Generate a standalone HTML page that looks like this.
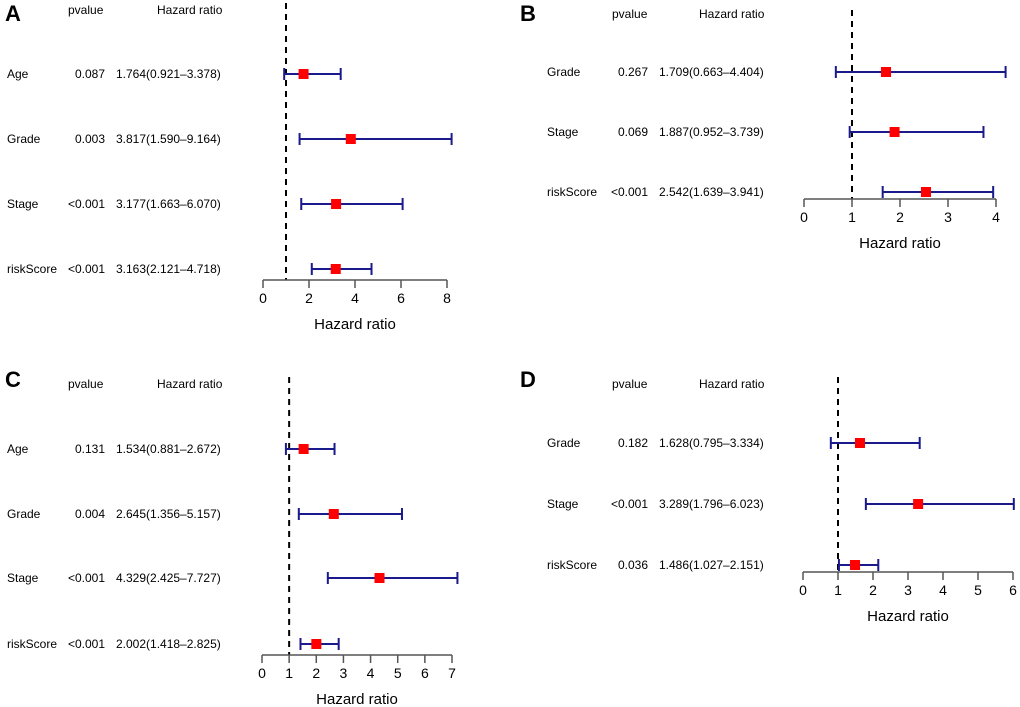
<!DOCTYPE html>
<html><head><meta charset="utf-8"><style>
body{margin:0;background:#fff}
svg{display:block;font-family:"Liberation Sans",Arial,sans-serif}
</style></head><body>
<svg id="c" width="1020" height="707"></svg>
<script>
const panelLetters=["A","B","C","D"];
const varsA=["Age","Grade","Stage","riskScore"];
const pA=["0.087","0.003","<0.001","<0.001"];
const hrA=[1.764,3.817,3.177,3.163];
const loA=[0.921,1.590,1.663,2.121];
const hiA=[3.378,9.164,6.070,4.718];
const ticksA=[0,2,4,6,8];
const varsB=["Grade","Stage","riskScore"];
const pB=["0.267","0.069","<0.001"];
const hrB=[1.709,1.887,2.542];
const loB=[0.663,0.952,1.639];
const hiB=[4.404,3.739,3.941];
const ticksB=[0,1,2,3,4];
const varsC=["Age","Grade","Stage","riskScore"];
const pC=["0.131","0.004","<0.001","<0.001"];
const hrC=[1.534,2.645,4.329,2.002];
const loC=[0.881,1.356,2.425,1.418];
const hiC=[2.672,5.157,7.727,2.825];
const ticksC=[0,1,2,3,4,5,6,7];
const varsD=["Grade","Stage","riskScore"];
const pD=["0.182","<0.001","0.036"];
const hrD=[1.628,3.289,1.486];
const loD=[0.795,1.796,1.027];
const hiD=[3.334,6.023,2.151];
const ticksD=[0,1,2,3,4,5,6];

const layouts=[
 {lx:5,ly:14,hy:14,px:68,hx:157,vx:7,pr:105,tx:116,rows:[74,139,204,269],x0:263,x1:447,tmax:8,ay:280,top:3},
 {lx:520,ly:14,hy:18,px:612,hx:699,vx:547,pr:648,tx:659,rows:[72,132,192],x0:804,x1:996,tmax:4,ay:199,top:10},
 {lx:5,ly:380,hy:388,px:68,hx:157,vx:7,pr:105,tx:116,rows:[449,514,578,644],x0:262,x1:452,tmax:7,ay:655,top:377},
 {lx:520,ly:380,hy:388,px:612,hx:699,vx:547,pr:648,tx:659,rows:[443,504,565],x0:803,x1:1013,tmax:6,ay:572,top:377}
];
const data=[[varsA,pA,hrA,loA,hiA,ticksA],[varsB,pB,hrB,loB,hiB,ticksB],[varsC,pC,hrC,loC,hiC,ticksC],[varsD,pD,hrD,loD,hiD,ticksD]];
const svg=document.getElementById('c');
const NS="http://www.w3.org/2000/svg";
function mk(t,a,txt){const e=document.createElementNS(NS,t);for(const k in a)e.setAttribute(k,a[k]);if(txt!==undefined)e.textContent=txt;svg.appendChild(e);return e;}
data.forEach((d,pi)=>{
 const L=layouts[pi];const [vars,pv,hr,lo,hi,ticks]=d;
 const xs=v=>L.x0+(L.x1-L.x0)*v/L.tmax;
 let e=mk('text',{x:L.lx,y:L.ly+7,'font-size':22,'font-weight':'bold'},panelLetters[pi]);
 
 e=mk('text',{x:L.px,y:L.hy,'font-size':12},'pvalue');
 
 e=mk('text',{x:L.hx,y:L.hy,'font-size':12},'Hazard ratio');
 
 e=mk('line',{x1:xs(1),x2:xs(1),y1:L.top,y2:L.ay,stroke:'#000','stroke-width':2,'stroke-dasharray':'6,5'});
 
 vars.forEach((v,i)=>{
  const y=L.rows[i];
  e=mk('text',{x:L.vx,y:y+4,'font-size':12},v);
  
  e=mk('text',{x:L.pr,y:y+4,'font-size':12,'text-anchor':'end'},pv[i]);
  
  e=mk('text',{x:L.tx,y:y+4,'font-size':12},hr[i].toFixed(3)+'('+lo[i].toFixed(3)+'\u2013'+hi[i].toFixed(3)+')');
  
  const a=xs(lo[i]),b=xs(Math.min(hi[i],L.tmax+0.2));
  e=mk('path',{d:`M${a},${y}H${b}M${a},${y-6}V${y+6}M${b},${y-6}V${y+6}`,stroke:'#1a1a8c','stroke-width':2,fill:'none'});
  
  e=mk('rect',{x:xs(hr[i])-5,y:y-5,width:10,height:10,fill:'#ff0000'});
  
 });
 e=mk('line',{x1:L.x0,x2:L.x1,y1:L.ay,y2:L.ay,stroke:'#555','stroke-width':1.5});
 
 ticks.forEach(t=>{
  e=mk('line',{x1:xs(t),x2:xs(t),y1:L.ay,y2:L.ay+8,stroke:'#555','stroke-width':1.5});
  
  e=mk('text',{x:xs(t),y:L.ay+23,'font-size':14,'text-anchor':'middle'},t);
  
 });
 e=mk('text',{x:(L.x0+L.x1)/2,y:L.ay+49,'font-size':15,'text-anchor':'middle'},'Hazard ratio');
 
});
</script>
</body></html>
